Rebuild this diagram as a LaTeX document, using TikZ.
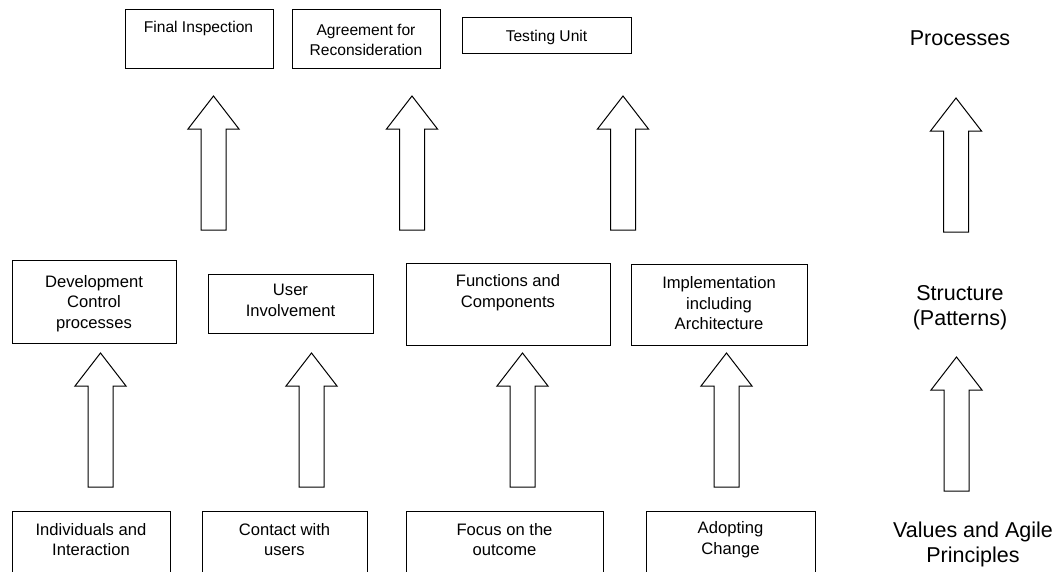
\documentclass[tikz,border=0pt]{standalone}
\usepackage{fontspec}
\setmainfont{Liberation Sans}
\begin{document}
\begin{tikzpicture}[x=1pt,y=-1pt,
  box/.style={draw, line width=1pt, inner sep=0pt},
  lbl/.style={align=center, font=\fontsize{16.6}{20.5}\selectfont, inner sep=0pt},
  lbltop/.style={align=center, font=\fontsize{15.6}{20}\selectfont, inner sep=0pt},
  side/.style={align=center, font=\fontsize{21.5}{25}\selectfont, inner sep=0pt},
  arrowline/.style={draw, line width=1pt, fill=white, line join=miter},
  blockarrow/.pic={\path[arrowline] (-12.5,134) -- (-12.5,33) -- (-25.5,33) -- (0,0) -- (25.5,33) -- (12.5,33) -- (12.5,134) -- cycle;}]
\clip (0,0) rectangle (1061,571);
\fill[white] (0,0) rectangle (1061,571);

% top row
\node[box, minimum width=148pt, minimum height=59pt] (fi) at (199,38.5) {};
\node[lbltop] (fit) at (198.5,28.5) {Final Inspection};
\node[box, minimum width=148pt, minimum height=59pt] (ag) at (366,38.5) {};
\node[lbltop] (agt) at (366,39.5) {Agreement for\\Reconsideration};
\node[box, minimum width=169pt, minimum height=36pt] (tu) at (546.5,35) {};
\node[lbltop] (tut) at (546.5,37) {Testing Unit};

% middle row
\node[box, minimum width=164pt, minimum height=83pt] (dev) at (94,301.5) {};
\node[lbl] (devt) at (94,303.5) {Development\\Control\\processes};
\node[box, minimum width=165pt, minimum height=59pt] (ui) at (290.5,303.5) {};
\node[lbl] (uit) at (290.5,300.5) {User\\Involvement};
\node[box, minimum width=204pt, minimum height=82pt] (fc) at (508,304) {};
\node[lbl] (fct) at (508,292.5) {Functions and\\Components};
\node[box, minimum width=176pt, minimum height=81pt] (im) at (719,304.5) {};
\node[lbl] (imt) at (719,303.5) {Implementation\\including\\Architecture};

% bottom row
\node[box, minimum width=158pt, minimum height=79pt] (ind) at (91,550.5) {};
\node[lbl] (indt) at (91,539.5) {Individuals and\\Interaction};
\node[box, minimum width=165pt, minimum height=79pt] (ca) at (284.5,550.5) {};
\node[lbl] (cat) at (284.5,539.5) {Contact with\\users};
\node[box, minimum width=197pt, minimum height=79pt] (fo) at (504.5,550.5) {};
\node[lbl] (fot) at (504.5,539.5) {Focus on the\\outcome};
\node[box, minimum width=169pt, minimum height=79pt] (ad) at (730.5,550.5) {};
\node[lbl] (adt) at (730.5,539.5) {Adopting\\Change};

% side labels
\node[side] (proc) at (960,38.5) {Processes};
\node[side] (struc) at (960,308) {Structure\\(Patterns)};
\node[side] (vals) at (973,544.5) {Values and Agile\\Principles};

% block arrows
\pic (a1) at (213.5,96) {blockarrow};
\pic (a2) at (412,96) {blockarrow};
\pic (a3) at (623,96) {blockarrow};
\pic (a4) at (956,98) {blockarrow};
\pic (b1) at (100.5,353) {blockarrow};
\pic (b2) at (311.5,353) {blockarrow};
\pic (b3) at (522.5,353) {blockarrow};
\pic (b4) at (726.5,353) {blockarrow};
\pic (b5) at (956.5,357) {blockarrow};
\end{tikzpicture}
\end{document}
